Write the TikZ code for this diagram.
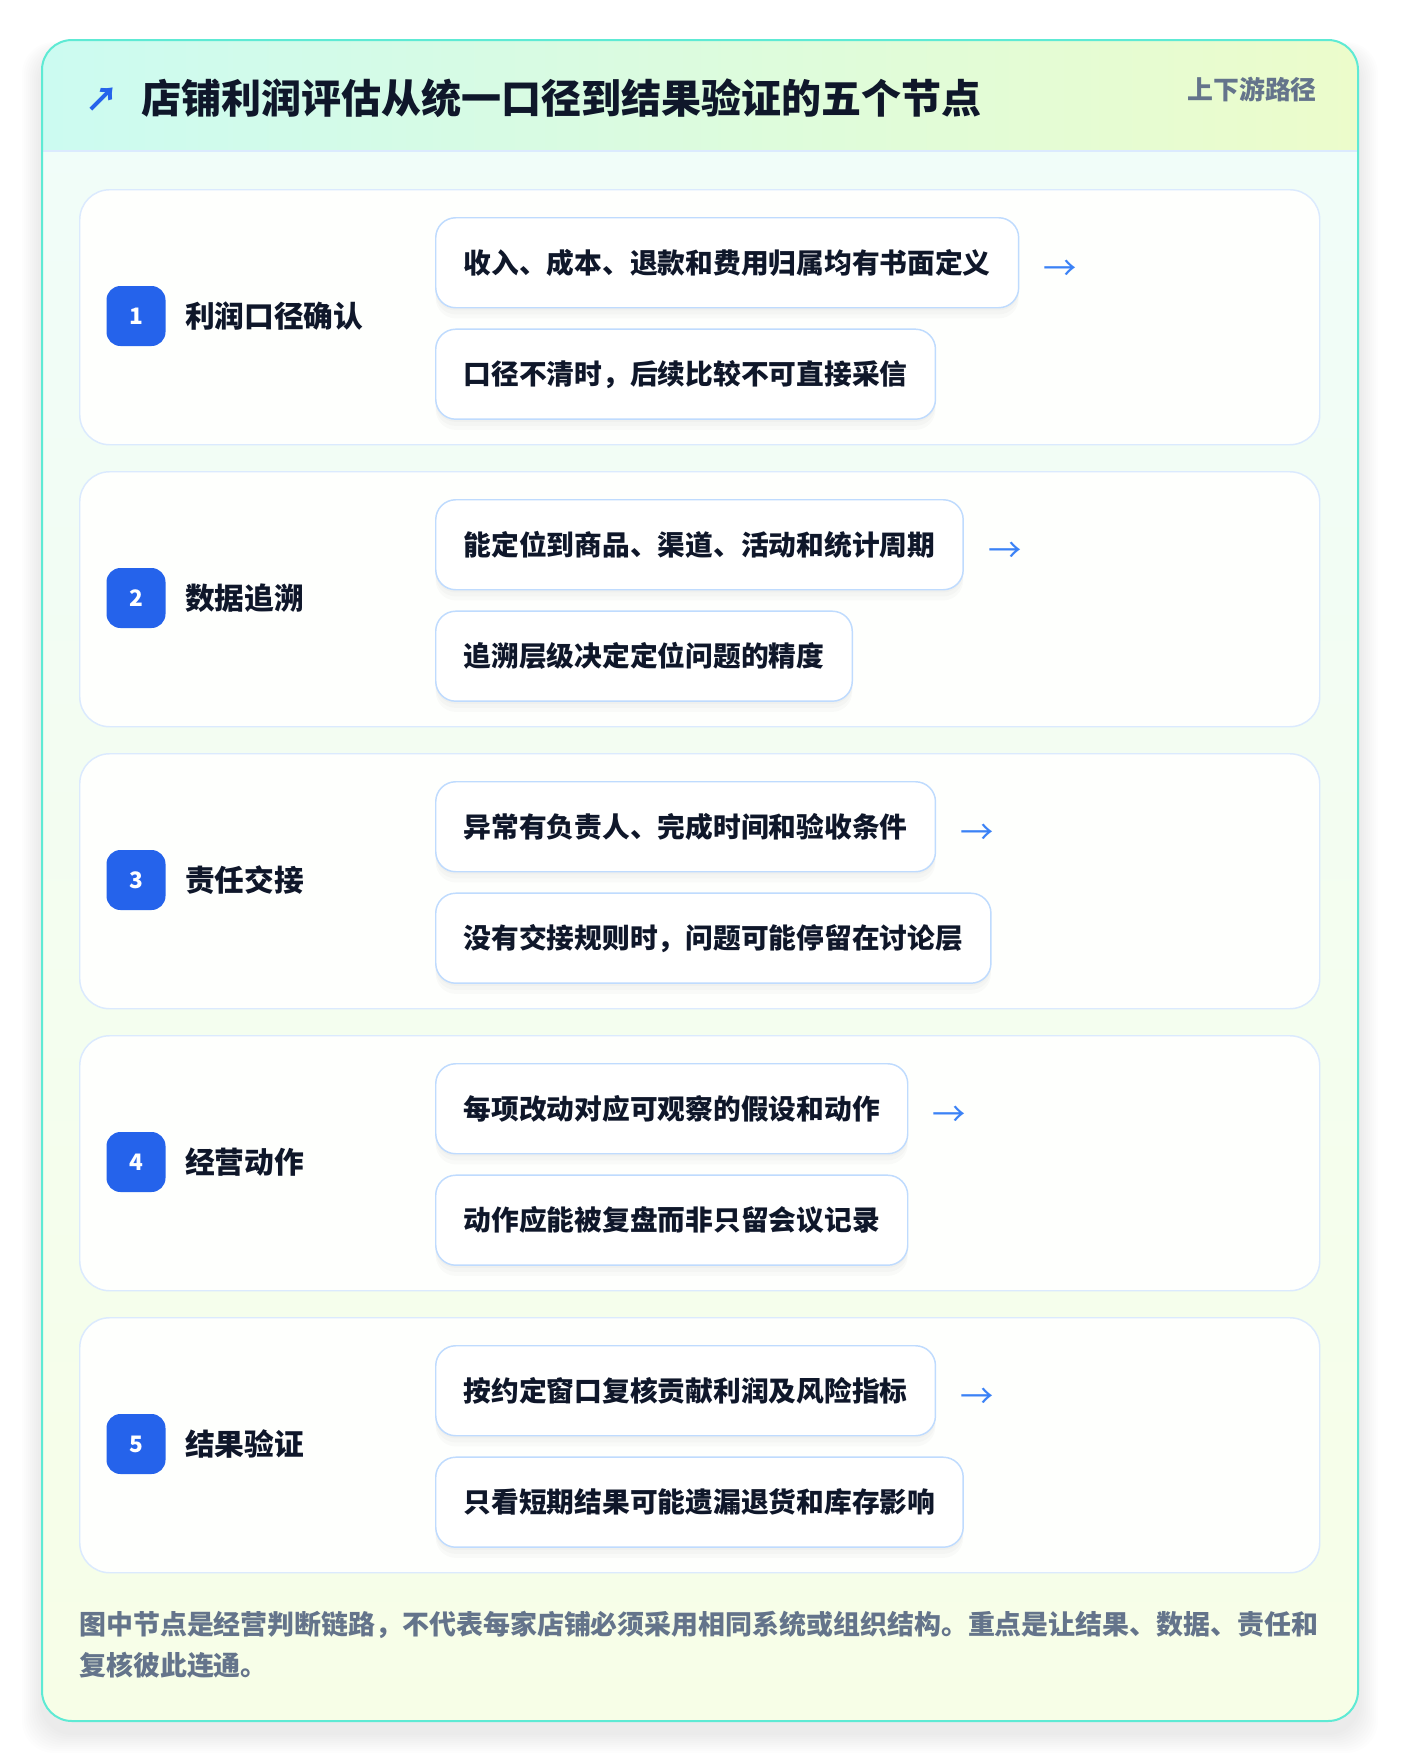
\documentclass[tikz,border=0pt]{standalone}
\usepackage{fontspec}
\setmainfont{Noto Sans CJK SC}
\usetikzlibrary{positioning}
\definecolor{cardline}{HTML}{5EEAD4}
\definecolor{headl}{HTML}{CCFBF1}
\definecolor{headr}{HTML}{ECFCCB}
\definecolor{bodytop}{HTML}{F0FDFA}
\definecolor{bodybot}{HTML}{F7FEE7}
\definecolor{headline}{HTML}{DBEAFE}
\definecolor{panelline}{HTML}{DBEAFE}
\definecolor{itemline}{HTML}{BFDBFE}
\definecolor{badgeblue}{HTML}{2563EB}
\definecolor{flowblue}{HTML}{3B82F6}
\definecolor{ink}{HTML}{0F172A}
\definecolor{slate}{HTML}{64748B}

\tikzset{
  panel/.style={draw=panelline,line width=1.1pt,fill=white!90!bodybot,rounded corners=22.5pt,
    minimum width=930pt,minimum height=191.25pt,anchor=north west,inner sep=0pt},
  badge/.style={fill=badgeblue,rounded corners=10.5pt,minimum width=44.25pt,minimum height=45pt,
    inner sep=0pt,text=white,font=\fontsize{17}{17}\selectfont\bfseries},
  steplabel/.style={inner sep=0pt,text=ink,font=\fontsize{22.3}{26}\selectfont\bfseries},
  itemshadow/.style={preaction={draw=none,fill=black,fill opacity=0.02,transform canvas={yshift=-#1}}},
  item/.style={draw=itemline,line width=1.1pt,fill=white,rounded corners=15pt,minimum height=67.5pt,
    inner xsep=21pt,inner ysep=0pt,anchor=north west,text=ink,font=\fontsize{20.8}{24}\selectfont\bfseries,
    itemshadow=2pt,itemshadow=5pt,itemshadow=8pt},
  flow/.style={inner sep=0pt,text=flowblue,font=\fontsize{25}{25}\selectfont},
  title/.style={inner sep=0pt,text=ink,font=\fontsize{30}{34}\selectfont\bfseries},
  tag/.style={inner sep=0pt,text=slate,font=\fontsize{19.4}{22}\selectfont\bfseries},
  note/.style={inner sep=0pt,anchor=north west,align=left,text=slate,font=\fontsize{20.2}{30.8}\selectfont\bfseries}
}

\begin{document}
\begin{tikzpicture}[x=0.75pt,y=-0.75pt]
  \useasboundingbox (0,0) rectangle (1400,1764);
  \fill[white] (0,0) rectangle (1400,1764);
  \foreach \s in {1,...,10}
    \fill[black,opacity=0.008,rounded corners=24pt] (42-2*\s,52-\s) rectangle (1358+2*\s,1733+2*\s);

  \begin{scope}
    \clip[rounded corners=22.5pt] (42,40) rectangle (1358,1721);
    \shade[top color=bodytop,bottom color=bodybot] (42,40) rectangle (1358,1721);
    \shade[left color=headl,right color=headr] (42,40) rectangle (1358,151);
  \end{scope}
  \draw[headline,line width=1.1pt] (42,151) -- (1358,151);
  \draw[cardline,line width=1.5pt,rounded corners=22.5pt] (42,40) rectangle (1358,1721);

  \node[title,anchor=west] (title) at (141,98) {店铺利润评估从统一口径到结果验证的五个节点};
  \node[flow,font=\fontsize{25}{25}\selectfont\bfseries,text=badgeblue,anchor=center] (icon) at (102,100) {↗};
  \node[tag,anchor=east] (tag) at (1317,89) {上下游路径};

  \foreach \i/\lab/\ta/\tb in {
    1/利润口径确认/收入、成本、退款和费用归属均有书面定义/口径不清时，后续比较不可直接采信,
    2/数据追溯/能定位到商品、渠道、活动和统计周期/追溯层级决定定位问题的精度,
    3/责任交接/异常有负责人、完成时间和验收条件/没有交接规则时，问题可能停留在讨论层,
    4/经营动作/每项改动对应可观察的假设和动作/动作应能被复盘而非只留会议记录,
    5/结果验证/按约定窗口复核贡献利润及风险指标/只看短期结果可能遗漏退货和库存影响}{
    \pgfmathsetmacro\ptop{189+282*(\i-1)}
    \node[panel] (panel\i) at (79,\ptop) {};
    \node[badge] (badge\i) at (136,\ptop+127) {\i};
    \node[steplabel,right=14.25pt of badge\i] (lab\i) {\lab};
    \node[item] (itema\i) at (435,\ptop+28) {\ta};
    \node[item,below=15pt of itema\i.south west,anchor=north west] (itemb\i) {\tb};
    \node[flow,right=18pt of itema\i,yshift=-6pt] (arr\i) {→};
  }

  \node[note] (note) at (79,1611) {图中节点是经营判断链路，不代表每家店铺必须采用相同系统或组织结构。重点是让结果、数据、责任和\\复核彼此连通。};
\end{tikzpicture}
\end{document}
